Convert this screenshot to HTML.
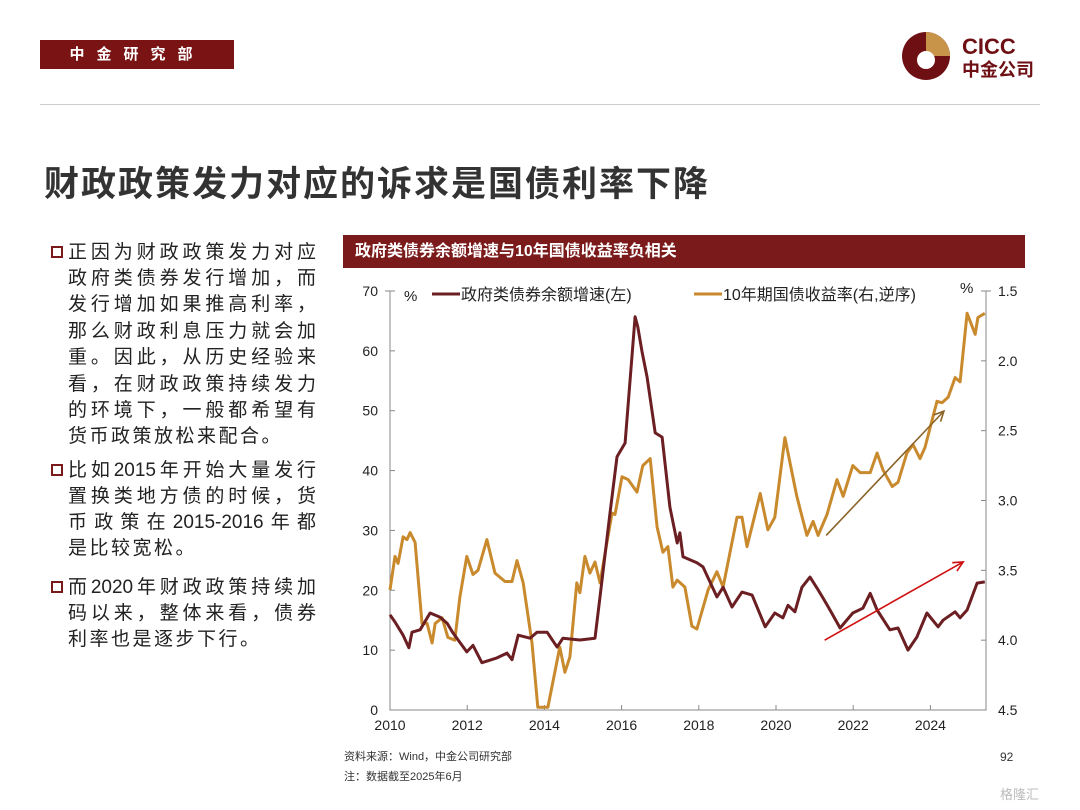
<!DOCTYPE html>
<html><head><meta charset="utf-8">
<style>
body{margin:0;width:1080px;height:810px;background:#fff;position:relative;overflow:hidden;font-family:"Liberation Sans","Noto Sans CJK SC",sans-serif;}
.abs{position:absolute;}
.bl{position:absolute;left:68px;width:248px;font-size:19px;color:#222;text-align:justify;text-align-last:justify;line-height:26px;height:26px;white-space:nowrap;}
.bl.l{text-align-last:left;letter-spacing:2.5px;}
.sq{position:absolute;left:51px;width:8px;height:8px;border:2px solid #7a1a1a;}
</style></head><body>
<div class="abs" style="left:40px;top:40px;width:194px;height:29px;background:#7a1313;color:#fff;font-size:15px;font-weight:bold;letter-spacing:12px;line-height:29px;text-align:center;">中金研究部</div>
<svg class="abs" style="left:900px;top:30px" width="150" height="52">
<circle cx="26" cy="26" r="24" fill="#6e0f14"/>
<path d="M26 2 A24 24 0 0 1 50 26 L26 26Z" fill="#c8944a"/>
<circle cx="26" cy="30" r="9" fill="#fff"/>
<text x="62" y="24" font-size="22" font-weight="bold" fill="#6e0f14" font-family="Liberation Sans">CICC</text>
<text x="62" y="46" font-size="18" font-weight="bold" fill="#6e0f14" font-family="Noto Sans CJK SC">中金公司</text>
</svg>
<div class="abs" style="left:40px;top:104px;width:1000px;height:1px;background:#ccc;"></div>
<div class="abs" style="left:44px;top:156px;font-size:35px;font-weight:bold;color:#333;letter-spacing:2px;">财政政策发力对应的诉求是国债利率下降</div>

<div>
<div class="sq" style="top:246px"></div>
<div class="bl" style="top:240px">正因为财政政策发力对应</div>
<div class="bl" style="top:266px">政府类债券发行增加，而</div>
<div class="bl" style="top:292px">发行增加如果推高利率，</div>
<div class="bl" style="top:319px">那么财政利息压力就会加</div>
<div class="bl" style="top:345px">重。因此，从历史经验来</div>
<div class="bl" style="top:372px">看，在财政政策持续发力</div>
<div class="bl" style="top:398px">的环境下，一般都希望有</div>
<div class="bl l" style="top:424px">货币政策放松来配合。</div>
<div class="sq" style="top:464px"></div>
<div class="bl" style="top:458px">比如2015年开始大量发行</div>
<div class="bl" style="top:484px">置换类地方债的时候，货</div>
<div class="bl" style="top:510px">币政策在2015-2016年都</div>
<div class="bl l" style="top:536px">是比较宽松。</div>
<div class="sq" style="top:581px"></div>
<div class="bl" style="top:575px">而2020年财政政策持续加</div>
<div class="bl" style="top:601px">码以来，整体来看，债券</div>
<div class="bl l" style="top:627px">利率也是逐步下行。</div>
</div>

<div class="abs" style="left:343px;top:235px;width:682px;height:33px;background:#7a1a1a;color:#fff;font-size:16px;font-weight:bold;line-height:33px;padding-left:12px;box-sizing:border-box;">政府类债券余额增速与10年国债收益率负相关</div>

<svg id="chart" class="abs" style="left:0;top:0" width="1080" height="810"></svg>

<div class="abs" style="left:344px;top:748px;font-size:11px;color:#333;">资料来源：Wind，中金公司研究部</div>
<div class="abs" style="left:344px;top:768px;font-size:11px;color:#333;">注：数据截至2025年6月</div>
<div class="abs" style="left:1000px;top:750px;font-size:12px;color:#333;">92</div>
<div class="abs" style="left:1000px;top:784px;font-size:13px;color:#bbb;">格隆汇</div>

<script>
const gYears=[2010.00,2010.13,2010.34,2010.49,2010.57,2010.78,2011.04,2011.30,2011.48,2011.63,2011.99,2012.15,2012.38,2012.77,2013.03,2013.16,2013.32,2013.63,2013.81,2014.07,2014.33,2014.48,2014.92,2015.31,2015.44,2015.70,2015.88,2016.09,2016.35,2016.42,2016.53,2016.66,2016.87,2017.05,2017.25,2017.44,2017.51,2017.59,2017.77,2017.95,2018.11,2018.47,2018.63,2018.86,2019.12,2019.38,2019.72,2019.97,2020.18,2020.31,2020.49,2020.67,2020.88,2021.06,2021.22,2021.40,2021.66,2021.99,2022.25,2022.44,2022.62,2022.95,2023.16,2023.42,2023.65,2023.91,2024.20,2024.33,2024.64,2024.77,2024.95,2025.21,2025.41];
const gGrowth=[15.9,14.7,12.5,10.4,13,13.4,16.2,15.5,14.5,12.9,9.7,10.8,7.9,8.7,9.5,8.4,12.5,12,13,13,10.5,12,11.7,12,18.9,32.9,42.3,44.6,65.7,64,59.8,55.6,46.3,45.6,33.9,27.9,29.6,25.6,25.1,24.6,23.9,18.9,20.5,17.2,19.7,19.2,13.9,16.2,15.4,17.5,16.4,20.5,22.2,20.4,18.7,16.7,13.7,16.2,17,19.5,16.7,13.4,13.7,10,12.2,16.2,13.9,15,16.4,15.4,16.7,21.2,21.4];
const yYears=[2010.00,2010.13,2010.21,2010.34,2010.44,2010.52,2010.65,2010.83,2010.96,2011.09,2011.17,2011.35,2011.50,2011.68,2011.81,2011.99,2012.15,2012.28,2012.51,2012.72,2012.98,2013.16,2013.29,2013.45,2013.68,2013.83,2014.09,2014.40,2014.53,2014.66,2014.84,2014.92,2015.05,2015.18,2015.31,2015.44,2015.75,2015.83,2016.01,2016.17,2016.40,2016.55,2016.74,2016.92,2017.07,2017.20,2017.33,2017.44,2017.64,2017.82,2017.95,2018.24,2018.47,2018.63,2018.99,2019.12,2019.25,2019.59,2019.79,2019.97,2020.23,2020.54,2020.80,2020.96,2021.09,2021.32,2021.58,2021.74,2021.99,2022.18,2022.44,2022.62,2022.77,2023.01,2023.16,2023.39,2023.55,2023.73,2023.86,2024.17,2024.30,2024.46,2024.64,2024.77,2024.95,2025.16,2025.23,2025.41];
const yYield=[3.64,3.40,3.45,3.26,3.28,3.23,3.30,3.88,3.88,4.02,3.88,3.84,3.98,4.00,3.69,3.40,3.53,3.50,3.28,3.52,3.58,3.58,3.43,3.59,4.02,4.48,4.48,4.05,4.23,4.12,3.59,3.66,3.40,3.52,3.44,3.59,3.09,3.10,2.83,2.85,2.94,2.75,2.70,3.19,3.37,3.33,3.62,3.57,3.62,3.90,3.92,3.64,3.51,3.62,3.12,3.12,3.33,2.95,3.21,3.12,2.55,2.97,3.25,3.15,3.25,3.10,2.85,2.97,2.75,2.80,2.80,2.66,2.78,2.90,2.87,2.66,2.60,2.70,2.62,2.29,2.30,2.26,2.12,2.15,1.66,1.81,1.69,1.66];
const xTicks=[2010,2012,2014,2016,2018,2020,2022,2024];
const leftTicks=[0,10,20,30,40,50,60,70];
const rightTicks=[1.5,2.0,2.5,3.0,3.5,4.0,4.5];
const arrowBrown=[[2021.3,3.25],[2024.35,2.36]];
const arrowRed=[[2021.26,4.0],[2024.85,3.44]];

const X0=390,X1=986,YT=291,YB=710;
const x=v=>X0+(v-2010)*38.6;
const yL=v=>YB-(v/70)*(YB-YT);
const yR=v=>YT+((v-1.5)/3)*(YB-YT);
const NS='http://www.w3.org/2000/svg';
const svg=document.getElementById('chart');
function mk(t,a){const e=document.createElementNS(NS,t);for(const k in a)e.setAttribute(k,a[k]);svg.appendChild(e);return e;}

let e=mk('path',{d:`M${X0} ${YT}H${X0-5}M${X0} ${YT}V${YB}H${X1}V${YT}H${X1+5}`,stroke:'#888',fill:'none','stroke-width':1});


xTicks.forEach(t=>{
  let l=mk('line',{x1:x(t),x2:x(t),y1:YB,y2:YB-5,stroke:'#888'});
  
  
  let tx=mk('text',{x:x(t),y:YB+20,'font-size':14,'text-anchor':'middle',fill:'#222'});
  tx.textContent=t;
  
  
});
leftTicks.forEach(t=>{
  let l=mk('line',{x1:X0,x2:X0+5,y1:yL(t),y2:yL(t),stroke:'#888'});
  
  
  let tx=mk('text',{x:X0-12,y:yL(t)+5,'font-size':14,'text-anchor':'end',fill:'#222'});
  tx.textContent=t;
  
  
});
rightTicks.forEach(t=>{
  let l=mk('line',{x1:X1-5,x2:X1,y1:yR(t),y2:yR(t),stroke:'#888'});
  
  
  let tx=mk('text',{x:X1+12,y:yR(t)+5,'font-size':14,fill:'#222'});
  tx.textContent=t.toFixed(1);
  
  
});
function line(xs,ys,fy,col,name){
  const d=xs.map((v,i)=>(i?'L':'M')+x(v).toFixed(1)+' '+fy(ys[i]).toFixed(1)).join('');
  const p=mk('path',{d,stroke:col,fill:'none','stroke-width':3,'stroke-linejoin':'round'});
  
  
}
line(yYears,yYield,yR,'#c98a2e','yield-line');
line(gYears,gGrowth,yL,'#6b1f22','growth-line');
function arrow(a,col,name){
  const x1=x(a[0][0]),y1=yR(a[0][1]),x2=x(a[1][0]),y2=yR(a[1][1]);
  const ang=Math.atan2(y2-y1,x2-x1),L=11;
  const d=`M${x1} ${y1}L${x2} ${y2}M${x2-L*Math.cos(ang-0.45)} ${y2-L*Math.sin(ang-0.45)}L${x2} ${y2}L${x2-L*Math.cos(ang+0.45)} ${y2-L*Math.sin(ang+0.45)}`;
  const p=mk('path',{d,stroke:col,fill:'none','stroke-width':1.6});
  
  
}
arrow(arrowBrown,'#8a6428','trend-arrow-yield');
arrow(arrowRed,'#d01010','trend-arrow-growth');
let t1=mk('text',{x:404,y:301,'font-size':15,fill:'#222'});t1.textContent='%';


let t2=mk('text',{x:960,y:293,'font-size':15,fill:'#222'});t2.textContent='%';


let le1=mk('line',{x1:432,x2:460,y1:294,y2:294,stroke:'#6b1f22','stroke-width':3});


let lt1=mk('text',{x:461,y:300,'font-size':16,fill:'#222'});lt1.textContent='政府类债券余额增速(左)';


let le2=mk('line',{x1:694,x2:722,y1:294,y2:294,stroke:'#c98a2e','stroke-width':3});


let lt2=mk('text',{x:723,y:300,'font-size':16,fill:'#222'});lt2.textContent='10年期国债收益率(右,逆序)';


</script>
</body></html>
